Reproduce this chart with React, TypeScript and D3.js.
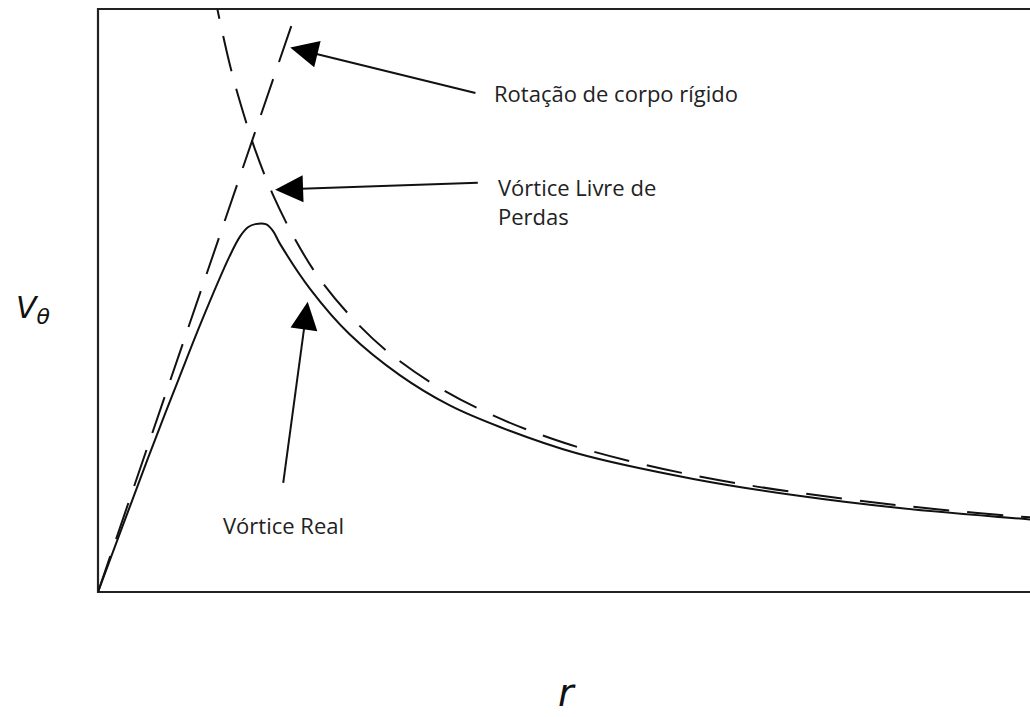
import React from "react";
import * as d3 from "d3";

// Rigid-body rotation: straight line through the origin
const rigidR = [0, 1.75];
const rigidV = [0, 5.12];

// Loss-free (potential) vortex: V decreases as 1/r
const freeR = [0.98, 1.05, 1.15, 1.25, 1.35, 1.5, 1.7, 1.9, 2.2, 2.5, 2.9, 3.4, 4.0, 4.7, 5.5, 6.4, 7.2, 8.0];
const freeV = [5.22, 4.88, 4.45, 4.1, 3.79, 3.41, 3.01, 2.69, 2.33, 2.05, 1.77, 1.51, 1.28, 1.09, 0.93, 0.8, 0.71, 0.64];

// Real vortex: forced core, rounded peak, then free-vortex decay
const realR = [0, 0.28, 0.43, 0.58, 0.69, 0.88, 1.13, 1.22, 1.29, 1.35, 1.44, 1.5, 1.56, 1.82, 2.16, 2.59, 3.02, 3.45, 4.11, 5.11, 6.03, 6.88, 8.0];
const realV = [0, 0.75, 1.15, 1.54, 1.82, 2.3, 2.88, 3.05, 3.13, 3.155, 3.155, 3.1, 2.99, 2.6, 2.21, 1.86, 1.6, 1.415, 1.19, 0.97, 0.823, 0.72, 0.622];

// Annotation arrows (tail -> tip, in r / V units)
const arrowTails: [number, number][] = [[3.24, 4.28], [3.26, 3.51], [1.59, 0.935]];
const arrowTips: [number, number][] = [[1.65, 4.67], [1.52, 3.45], [1.8, 2.49]];

const W = 1030;
const H = 717;
const plot = { left: 98, right: 1030, top: 9, bottom: 592 };

function zip(a: number[], b: number[]): [number, number][] {
  return a.map((v, i) => [v, b[i]]);
}

export default function App() {
  const x = d3.scaleLinear().domain([0, 8]).range([plot.left, plot.right]);
  const y = d3.scaleLinear().domain([0, 5]).range([plot.bottom, plot.top]);

  const straight = d3
    .line<[number, number]>()
    .x((d) => x(d[0]))
    .y((d) => y(d[1]));
  const smooth = d3
    .line<[number, number]>()
    .x((d) => x(d[0]))
    .y((d) => y(d[1]))
    .curve(d3.curveCatmullRom.alpha(0.5));

  const rigidPath = straight(zip(rigidR, rigidV)) || "";
  const freePath = smooth(zip(freeR, freeV)) || "";
  const realPath = smooth(zip(realR, realV)) || "";

  const headLen = 28;
  const headW = 27;
  const arrows = arrowTails.map((t, i) => {
    const tip = arrowTips[i];
    const x1 = x(t[0]);
    const y1 = y(t[1]);
    const x2 = x(tip[0]);
    const y2 = y(tip[1]);
    const len = Math.hypot(x2 - x1, y2 - y1);
    const ux = (x2 - x1) / len;
    const uy = (y2 - y1) / len;
    const bx = x2 - ux * headLen;
    const by = y2 - uy * headLen;
    const nx = -uy * (headW / 2);
    const ny = ux * (headW / 2);
    return {
      line: `M${x1},${y1}L${bx + ux * 2},${by + uy * 2}`,
      head: `M${x2},${y2}L${bx + nx},${by + ny}L${bx - nx},${by - ny}Z`,
    };
  });

  const labelFont = "'Open Sans', sans-serif";

  return (
    <svg
      width={W}
      height={H}
      viewBox={`0 0 ${W} ${H}`}
      style={{ position: "absolute", left: 0, top: 0, background: "#fff", display: "block" }}
    >
      <defs>
        <clipPath id="plot-area">
          <rect x={plot.left} y={plot.top} width={plot.right - plot.left} height={plot.bottom - plot.top} />
        </clipPath>
      </defs>
      <rect x={0} y={0} width={W} height={H} fill="#fff" />

      {/* frame: left, top and bottom edges */}
      <path
        d={`M${plot.right},${plot.top}H${plot.left}V${plot.bottom}H${plot.right}`}
        fill="none"
        stroke="#222"
        strokeWidth={2.2}
      />

      <g clipPath="url(#plot-area)" fill="none" stroke="#111" strokeWidth={2}>
        <path d={rigidPath} strokeDasharray="38 18" />
        <path d={freePath} strokeDasharray="36 18" />
        <path d={realPath} strokeLinejoin="round" />
      </g>

      {arrows.map((a, i) => (
        <g key={i}>
          <path d={a.line} stroke="#111" strokeWidth={2} fill="none" />
          <path d={a.head} fill="#000" />
        </g>
      ))}

      <g fontFamily={labelFont} fontSize={22} fill="#222">
        <text x={494} y={102}>Rotação de corpo rígido</text>
        <text x={498} y={196}>Vórtice Livre de</text>
        <text x={498} y={225}>Perdas</text>
        <text x={223} y={534}>Vórtice Real</text>
      </g>

      {/* axis titles */}
      <text x={16} y={318} fontFamily="'DejaVu Sans', sans-serif" fontStyle="italic" fontSize={30} fill="#111">
        V
        <tspan fontSize={22} dy={6}>θ</tspan>
      </text>
      <text x={558} y={706} fontFamily="'DejaVu Sans', sans-serif" fontStyle="italic" fontSize={38} fill="#111">
        r
      </text>
    </svg>
  );
}
